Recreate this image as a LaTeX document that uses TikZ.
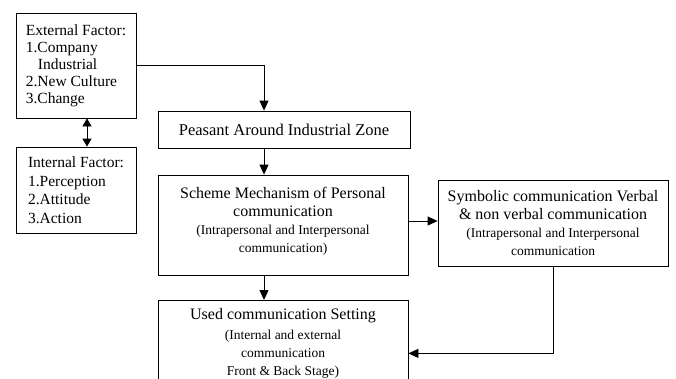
\documentclass[tikz,border=0pt]{standalone}
\usepackage{fontspec}
\setmainfont{Liberation Serif}
\usetikzlibrary{positioning,arrows.meta,calc}

\begin{document}
\begin{tikzpicture}[
    x=1pt, y=-1pt,
    box/.style={rectangle, draw=black, thick, fill=white, inner sep=0pt, font=\fontsize{15.5}{17}\selectfont},
    label/.style={anchor=north, align=center, inner sep=0pt, font=\fontsize{16}{18}\selectfont},
    link/.style={thick, -{Triangle[length=10pt, width=9pt]}},
    twoway/.style={thick, {Triangle[length=8pt, width=9pt]}-{Triangle[length=8pt, width=9pt]}}
]
    \clip (0,0) rectangle (676,378);
    \fill[white] (0,0) rectangle (676,378);
    \newcommand{\smalltxt}{\fontsize{13.5}{18}\selectfont}

    % Spalten und Zeilen der Verbindungslinien
    \coordinate (spine) at (264,0);
    \coordinate (dbl) at (87,0);
    \coordinate (side) at (0,221);

    % Faktoren links
    \node[box, minimum width=120pt, minimum height=105pt, align=left] (ext) at (76,65.5) {
        External Factor:\\
        1.Company\\
        \hspace*{12pt}Industrial\\
        2.New Culture\\
        3.Change
    };
    \node[box, minimum width=120pt, minimum height=86pt, align=left,
          font=\fontsize{15.5}{18.5}\selectfont] (int) at (76,190) {
        Internal Factor:\\
        1.Perception\\
        2.Attitude\\
        3.Action
    };

    % Hauptkette
    \node[box, minimum width=252pt, minimum height=37pt, font=\fontsize{16.5}{17}\selectfont] (peasant) at (284,129.5) {Peasant Around Industrial Zone};
    \node[box, minimum width=250pt, minimum height=100pt] (scheme) at (283,225) {};
    \node[label] (schemetxt) at (283,187) {
        Scheme Mechanism of Personal\\
        communication\\
        {\smalltxt (Intrapersonal and Interpersonal}\\
        {\smalltxt communication)}
    };
    \node[box, minimum width=230pt, minimum height=86pt, align=center, font=\fontsize{16}{18}\selectfont] (symb) at (553,223) {
        Symbolic communication Verbal\\
        \& non verbal communication\\
        {\smalltxt (Intrapersonal and Interpersonal}\\
        {\smalltxt communication}
    };
    \node[box, minimum width=250pt, minimum height=106pt, anchor=north] (used) at (283,300) {};
    \node[label] (usedtxt) at (283,308) {
        Used communication Setting\\[2pt]
        {\fontsize{13.5}{15.5}\selectfont (Internal and external}\\
        {\fontsize{13.5}{15.5}\selectfont communication}\\
        {\fontsize{13.5}{15.5}\selectfont Front \& Back Stage)}
    };

    % Verbindungen
    \draw[twoway] (ext.south -| dbl) -- (int.north -| dbl);
    \draw[link] (ext.east) -| (peasant.north -| spine);
    \draw[link] (peasant.south -| spine) -- (scheme.north -| spine);
    \draw[link] (scheme.south -| spine) -- (used.north -| spine);
    \draw[link] (scheme.east |- side) -- (symb.west |- side);
    \draw[link] (symb.south) |- (used.east);
\end{tikzpicture}
\end{document}
